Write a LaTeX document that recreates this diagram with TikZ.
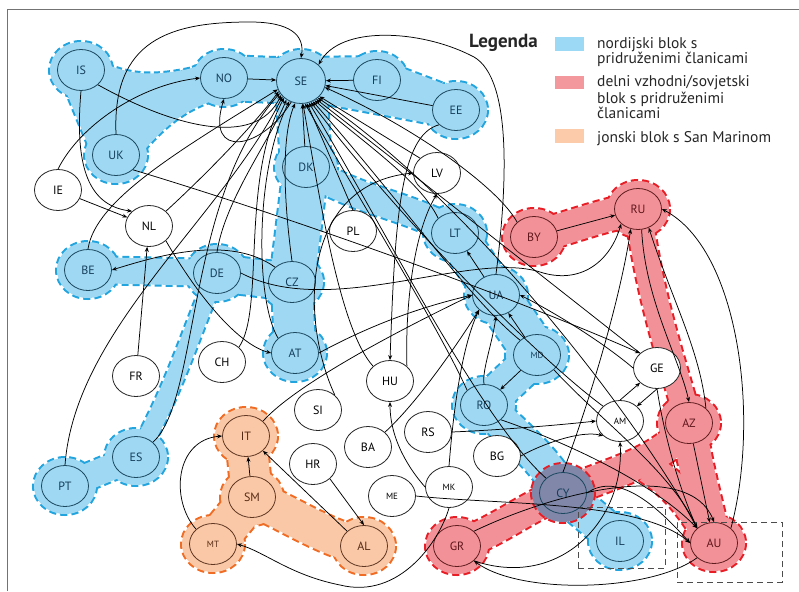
\documentclass[tikz,border=0pt]{standalone}
\usepackage{fontspec}
\setmainfont{PT Sans}
\setsansfont{PT Sans}
\usetikzlibrary{shapes.geometric,arrows.meta,backgrounds}
\definecolor{bluefill}{RGB}{158,216,242}
\definecolor{bluedash}{RGB}{34,164,222}
\definecolor{redfill}{RGB}{242,146,152}
\definecolor{reddash}{RGB}{232,30,38}
\definecolor{orfill}{RGB}{250,200,166}
\definecolor{ordash}{RGB}{240,108,36}
\definecolor{cyfill}{RGB}{128,135,168}
\definecolor{bluetext}{RGB}{22,62,92}
\definecolor{redtext}{RGB}{95,22,28}
\definecolor{ortext}{RGB}{85,42,20}
\definecolor{blueline}{RGB}{28,72,96}
\definecolor{redline}{RGB}{95,28,30}
\definecolor{orline}{RGB}{95,55,35}
\definecolor{legblue}{RGB}{155,217,244}
\definecolor{legred}{RGB}{243,152,157}
\definecolor{legor}{RGB}{251,203,170}
\tikzset{
  nbase/.style={ellipse, line width=0.8pt, minimum width=47pt, minimum height=41pt, inner sep=0pt, font=\fontsize{12}{12}\selectfont},
  nwhite/.style={nbase, draw=black!85, fill=white, text=black},
  nblue/.style={nbase, draw=blueline, text=bluetext},
  nred/.style={nbase, draw=redline, text=redtext},
  nor/.style={nbase, draw=orline, text=ortext},
  nsmall/.style={font=\fontsize{9}{9}\selectfont},
  conn/.style={draw=black, line width=0.75pt, -{Stealth[length=5pt,width=4pt]}},
  bdisc/.style={draw=bluedash, line width=4pt, dash pattern=on 7pt off 4pt},
  rdisc/.style={draw=reddash, line width=4pt, dash pattern=on 7pt off 4pt},
  odisc/.style={draw=ordash, line width=4pt, dash pattern=on 7pt off 4pt},
  legtext/.style={anchor=base west, inner sep=0pt, font=\fontsize{15.5}{15}\selectfont, text=black!85},
}
\newcommand{\bandout}[3]{\draw[draw=#1, line width=#2pt+4pt, dash pattern=on 7pt off 4pt, line cap=butt] #3;}
\newcommand{\bandfill}[3]{\draw[draw=#1, line width=#2pt, line cap=butt, line join=round] #3;}
\begin{document}
\begin{tikzpicture}[x=1pt,y=-1pt]
\useasboundingbox (0,0) rectangle (799,591);
\draw[black!55, line width=1pt] (7,591) -- (7,10) -- (799,10);

% ---------------- nodes ----------------
\node[nblue] (IS) at (81,70) {IS};
\node[nblue] (NO) at (224,78) {NO};
\node[nblue, minimum width=49pt, minimum height=45pt] (SE) at (301,81) {SE};
\node[nblue] (FI) at (377,80) {FI};
\node[nblue] (EE) at (456,110) {EE};
\node[nblue] (UK) at (116,155) {UK};
\node[nblue] (DK) at (306,167) {DK};
\node[nwhite] (IE) at (58,190) {IE};
\node[nwhite] (LV) at (437,173) {LV};
\node[nwhite] (NL) at (149,226) {NL};
\node[nwhite] (PL) at (353,231) {PL};
\node[nblue] (LT) at (455,233) {LT};
\node[nred] (BY) at (534,237) {BY};
\node[nred] (RU) at (638,209) {RU};
\node[nblue] (BE) at (88,270) {BE};
\node[nblue] (DE) at (217,273) {DE};
\node[nblue] (CZ) at (292,282) {CZ};
\node[nblue] (UA) at (496,295) {UA};
\node[nblue] (AT) at (295,353) {AT};
\node[nwhite] (CH) at (222,362) {CH};
\node[nwhite] (FR) at (136,376) {FR};
\node[nblue, nsmall] (MD) at (537,355) {MD};
\node[nwhite] (GE) at (657,368) {GE};
\node[nwhite] (HU) at (390,381) {HU};
\node[nwhite] (SI) at (318,410) {SI};
\node[nblue] (RO) at (484,405) {RO};
\node[nwhite, nsmall] (AM) at (620,421) {AM};
\node[nred] (AZ) at (689,423) {AZ};
\node[nor] (IT) at (246,436) {IT};
\node[nwhite] (RS) at (428,432) {RS};
\node[nwhite] (BA) at (368,447) {BA};
\node[nwhite] (BG) at (497,456) {BG};
\node[nwhite] (HR) at (313,464) {HR};
\node[nblue] (ES) at (136,457) {ES};
\node[nblue] (PT) at (65,486) {PT};
\node[nor] (SM) at (252,497) {SM};
\node[nwhite, nsmall] (ME) at (392,496) {ME};
\node[nwhite, nsmall] (MK) at (449,487) {MK};
\node[nbase, draw=blueline, text=bluetext] (CY) at (563,493) {CY};
\node[nred] (GR) at (457,546) {GR};
\node[nor, nsmall] (MT) at (213,544) {MT};
\node[nor] (AL) at (364,546) {AL};
\node[nblue] (IL) at (620,541) {IL};
\node[nred] (AU) at (714,543) {AU};

% dashed boxes
\node[draw=black!70, dash pattern=on 6pt off 4pt, line width=1pt, minimum width=87pt, minimum height=61pt, inner sep=0] (boxIL) at (621.5,537.5) {};
\node[draw=black!70, dash pattern=on 6pt off 4pt, line width=1pt, minimum width=105pt, minimum height=60pt, inner sep=0] (boxAU) at (729.5,552) {};

% ---------------- legend ----------------
\node[anchor=base west, inner sep=0pt, font=\fontsize{19}{19}\selectfont\bfseries, text=black!85] (legtitle) at (469,48) {Legenda};
\node[fill=legblue, minimum width=29pt, minimum height=14pt, inner sep=0] (sw1) at (569.5,44) {};
\node[fill=legred, minimum width=29pt, minimum height=13pt, inner sep=0] (sw2) at (569.5,82.5) {};
\node[fill=legor, minimum width=29pt, minimum height=14pt, inner sep=0] (sw3) at (569.5,136) {};
\node[legtext] (l1a) at (597,49) {nordijski blok s};
\node[legtext] (l1b) at (597,64) {pridruženimi članicami};
\node[legtext] (l2a) at (597,87) {delni vzhodni/sovjetski};
\node[legtext] (l2b) at (597,103) {blok s pridruženimi};
\node[legtext] (l2c) at (597,118) {članicami};
\node[legtext] (l3a) at (597,142) {jonski blok s San Marinom};

% ---------------- connectors ----------------
% into SE (north / west cluster)
\draw[conn] (NO) -- (SE);
\draw[conn] (FI) -- (SE);
\draw[conn] (EE) -- (SE);
\draw[conn] (DK) -- (SE);
\draw[conn] (SE.245) .. controls (262,150) and (205,160) .. (NO.south);
\draw[conn] (IE.north) .. controls (80,125) and (140,85) .. (NO.west);
\draw[conn] (UK.north) .. controls (112,40) and (170,22) .. (250,22) .. controls (290,22) and (305,35) .. (SE.north);
\draw[conn] (UA.north) .. controls (508,180) and (512,72) .. (470,55) .. controls (420,30) and (340,25) .. (SE.north east);
\draw[conn] (IS.south east) .. controls (170,125) and (255,150) .. (SE.215);
\draw[conn] (NL.north east) .. controls (200,180) and (250,130) .. (SE.205);
\draw[conn] (BE.north) .. controls (95,200) and (180,150) .. (SE.200);
\draw[conn] (DE.north) .. controls (225,200) and (270,140) .. (SE.232);
\draw[conn] (CZ.north) .. controls (285,210) and (280,140) .. (SE.255);
\draw[conn] (AT.north west) .. controls (255,300) and (255,170) .. (SE.240);
\draw[conn] (CH.north east) .. controls (265,310) and (240,180) .. (SE.225);
\draw[conn] (PT.north) .. controls (75,330) and (220,220) .. (SE.220);
\draw[conn] (ES.north east) .. controls (200,400) and (185,200) .. (SE.210);
% into SE from south-east
\draw[conn] (LV.north west) -- (SE.320);
\draw[conn] (LT.north west) .. controls (420,180) and (360,140) .. (SE.305);
\draw[conn] (PL.north) -- (SE.285);
\draw[conn] (HU.north west) .. controls (340,330) and (320,200) .. (SE.275);
\draw[conn] (BY.north west) .. controls (500,190) and (420,130) .. (SE.345);
\draw[conn] (MD.north west) .. controls (470,300) and (400,200) .. (SE.300);
\draw[conn] (GE.north west) .. controls (560,290) and (420,180) .. (SE.310);
\draw[conn] (AM.north west) .. controls (540,360) and (400,220) .. (SE.295);
\draw[conn] (CY.north west) .. controls (480,420) and (380,220) .. (SE.290);
\draw[conn] (RO.north west) .. controls (440,330) and (360,200) .. (SE.280);
\draw[conn] (AU.north west) .. controls (640,420) and (470,200) .. (SE.315);
% west
\draw[conn] (IE) -- (NL);
\draw[conn] (IS.south) .. controls (75,160) and (85,205) .. (NL.north west);
\draw[conn] (FR) -- (NL);
\draw[conn] (NL.south east) .. controls (200,300) and (240,345) .. (AT.west);
\draw[conn] (CZ.north west) .. controls (230,235) and (160,255) .. (BE.east);
\draw[conn] (UK.south east) .. controls (300,220) and (520,300) .. (GE.north west);
\draw[conn] (DE.east) .. controls (330,320) and (470,250) .. (540,272) .. controls (580,285) and (610,262) .. (RU.south west);
% centre
\draw[conn] (EE.south west) .. controls (400,135) and (395,220) .. (HU.north);
\draw[conn] (HU.north east) .. controls (405,300) and (415,230) .. (LV.south);
\draw[conn] (SI.north east) .. controls (300,320) and (300,185) .. (LV.west);
\draw[conn] (UA) -- (LT);
\draw[conn] (BY) -- (RU);
\draw[conn] (RU.280) .. controls (645,300) and (680,360) .. (AZ.north);
\draw[conn] (AZ.north east) .. controls (700,350) and (672,300) .. (RU.300);
\draw[conn] (AU.north east) .. controls (760,420) and (740,250) .. (RU.east);
\draw[conn] (CY.north) .. controls (590,400) and (620,300) .. (RU.250);
\draw[conn] (GE.west) .. controls (600,340) and (550,310) .. (UA.east);
\draw[conn] (MD) -- (UA);
\draw[conn] (RO.north) .. controls (482,370) and (492,345) .. (UA.south);
\draw[conn] (MD) -- (RO);
\draw[conn] (AT.east) .. controls (380,320) and (430,305) .. (UA.west);
\draw[conn] (IT.north east) .. controls (300,380) and (420,320) .. (UA.west);
\draw[conn] (BA.north east) .. controls (420,400) and (460,340) .. (UA.south west);
\draw[conn] (MK.north) .. controls (455,390) and (465,340) .. (UA.south west);
\draw[conn] (MK.west) .. controls (410,470) and (390,440) .. (HU.south);
% south-west
\draw[conn] (SM) -- (IT);
\draw[conn] (MT.north west) .. controls (170,500) and (175,440) .. (IT.west);
\draw[conn] (AL.north west) -- (IT.south east);
\draw[conn] (HR.south east) -- (AL.north);
\draw[conn] (MK.south) .. controls (440,540) and (400,600) .. (340,585) .. controls (290,575) and (265,552) .. (MT.east);
% south-east
\draw[conn] (AM.north) -- (GE.south west);
\draw[conn] (GE.south) -- (AM.north east);
\draw[conn] (RS.east) .. controls (500,430) and (560,425) .. (AM.west);
\draw[conn] (BG.east) .. controls (540,445) and (580,430) .. (AM.south west);
\draw[conn] (GR.south east) .. controls (560,590) and (625,520) .. (AM.south);
\draw[conn] (AZ) -- (AU);
\draw[conn] (GE.south) .. controls (665,440) and (680,490) .. (AU.north west);
\draw[conn] (CY.east) .. controls (620,470) and (660,510) .. (AU.west);
\draw[conn] (ME.east) .. controls (500,505) and (640,500) .. (AU.west);
\draw[conn] (GR.north east) .. controls (560,490) and (690,460) .. (AU.north);
\draw[conn] (RO.south east) .. controls (560,440) and (650,480) .. (AU.north west);
\draw[conn] (MD.south east) .. controls (600,420) and (670,470) .. (AU.north west);
\draw[conn] (AU.south west) .. controls (650,592) and (520,595) .. (GR.south east);

% ---------------- blobs ----------------
\begin{scope}[on background layer]
  % blue outlines
  \foreach \n in {IS,NO,FI,EE,UK,DK,BE,DE,CZ,AT,LT,UA,MD,RO,ES,PT,IL}
    \draw[bdisc] (\n.center) ellipse [x radius=31, y radius=28];
  \draw[bdisc] (SE.center) ellipse [x radius=33, y radius=31];
  \bandout{bluedash}{34}{(IS.center) .. controls (130,100) and (170,92) .. (NO.center)}
  \bandout{bluedash}{38}{(UK.center) .. controls (150,110) and (180,88) .. (NO.center)}
  \bandout{bluedash}{44}{(IS.center) -- (UK.center)}
  \bandout{bluedash}{44}{(NO.center) -- (SE.center)}
  \bandout{bluedash}{46}{(SE.center) -- (FI.center)}
  \bandout{bluedash}{40}{(FI.center) -- (EE.center)}
  \bandout{bluedash}{36}{(SE.center) -- (EE.center)}
  \bandout{bluedash}{50}{(SE.center) -- (DK.center)}
  \bandout{bluedash}{44}{(DK.center) -- (CZ.center)}
  \bandout{bluedash}{28}{(DK.center) .. controls (350,200) and (410,205) .. (LT.center)}
  \bandout{bluedash}{40}{(CZ.center) -- (AT.center)}
  \bandout{bluedash}{36}{(CZ.center) -- (DE.center)}
  \bandout{bluedash}{26}{(DE.center) -- (BE.center)}
  \bandout{bluedash}{18}{(DE.center) .. controls (195,320) and (175,390) .. (ES.center)}
  \bandout{bluedash}{26}{(ES.center) -- (PT.center)}
  \bandout{bluedash}{40}{(LT.center) -- (UA.center)}
  \bandout{bluedash}{44}{(UA.center) -- (MD.center)}
  \bandout{bluedash}{36}{(MD.center) -- (RO.center)}
  \bandout{bluedash}{34}{(RO.center) .. controls (520,440) and (545,460) .. (CY.center)}
  \bandout{bluedash}{36}{(CY.center) -- (IL.center)}
  % blue fills
  \foreach \n in {IS,NO,FI,EE,UK,DK,BE,DE,CZ,AT,LT,UA,MD,RO,ES,PT,IL}
    \fill[bluefill] (\n.center) ellipse [x radius=31, y radius=28];
  \fill[bluefill] (SE.center) ellipse [x radius=33, y radius=31];
  \fill[bluefill] (IS.center) -- (UK.center) -- (160,102) -- cycle;
  \bandfill{bluefill}{34}{(IS.center) .. controls (130,100) and (170,92) .. (NO.center)}
  \bandfill{bluefill}{38}{(UK.center) .. controls (150,110) and (180,88) .. (NO.center)}
  \bandfill{bluefill}{44}{(IS.center) -- (UK.center)}
  \bandfill{bluefill}{44}{(NO.center) -- (SE.center)}
  \bandfill{bluefill}{46}{(SE.center) -- (FI.center)}
  \bandfill{bluefill}{40}{(FI.center) -- (EE.center)}
  \bandfill{bluefill}{36}{(SE.center) -- (EE.center)}
  \bandfill{bluefill}{50}{(SE.center) -- (DK.center)}
  \bandfill{bluefill}{44}{(DK.center) -- (CZ.center)}
  \bandfill{bluefill}{28}{(DK.center) .. controls (350,200) and (410,205) .. (LT.center)}
  \bandfill{bluefill}{40}{(CZ.center) -- (AT.center)}
  \bandfill{bluefill}{36}{(CZ.center) -- (DE.center)}
  \bandfill{bluefill}{26}{(DE.center) -- (BE.center)}
  \bandfill{bluefill}{18}{(DE.center) .. controls (195,320) and (175,390) .. (ES.center)}
  \bandfill{bluefill}{26}{(ES.center) -- (PT.center)}
  \bandfill{bluefill}{40}{(LT.center) -- (UA.center)}
  \bandfill{bluefill}{44}{(UA.center) -- (MD.center)}
  \bandfill{bluefill}{36}{(MD.center) -- (RO.center)}
  \bandfill{bluefill}{34}{(RO.center) .. controls (520,440) and (545,460) .. (CY.center)}
  \bandfill{bluefill}{36}{(CY.center) -- (IL.center)}
  % red outlines
  \foreach \n in {BY,RU,AZ,AU,GR}
    \draw[rdisc] (\n.center) ellipse [x radius=31, y radius=28];
  \bandout{reddash}{32}{(BY.center) .. controls (570,228) and (600,215) .. (RU.center)}
  \bandout{reddash}{26}{(RU.center) .. controls (650,300) and (672,360) .. (AZ.center)}
  \bandout{reddash}{34}{(AZ.center) .. controls (695,470) and (705,500) .. (AU.center)}
  \bandout{reddash}{30}{(AZ.center) .. controls (665,460) and (620,470) .. (CY.center)}
  \bandout{reddash}{30}{(648,468) .. controls (675,485) and (690,505) .. (AU.center)}
  \bandout{reddash}{30}{(CY.center) .. controls (530,505) and (500,530) .. (GR.center)}
  % red fills
  \foreach \n in {BY,RU,AZ,AU,GR}
    \fill[redfill] (\n.center) ellipse [x radius=31, y radius=28];
  \bandfill{redfill}{32}{(BY.center) .. controls (570,228) and (600,215) .. (RU.center)}
  \bandfill{redfill}{26}{(RU.center) .. controls (650,300) and (672,360) .. (AZ.center)}
  \bandfill{redfill}{34}{(AZ.center) .. controls (695,470) and (705,500) .. (AU.center)}
  \bandfill{redfill}{30}{(AZ.center) .. controls (665,460) and (620,470) .. (CY.center)}
  \bandfill{redfill}{30}{(648,468) .. controls (675,485) and (690,505) .. (AU.center)}
  \bandfill{redfill}{30}{(CY.center) .. controls (530,505) and (500,530) .. (GR.center)}
  % Cyprus overlap
  \draw[rdisc] (CY.center) ellipse [x radius=31, y radius=29];
  \fill[cyfill] (CY.center) ellipse [x radius=31, y radius=29];
  % orange
  \foreach \n in {IT,SM,MT,AL}
    \draw[odisc] (\n.center) ellipse [x radius=31, y radius=28];
  \bandout{ordash}{40}{(IT.center) -- (SM.center)}
  \bandout{ordash}{40}{(SM.center) -- (MT.center)}
  \bandout{ordash}{36}{(SM.center) .. controls (300,520) and (330,540) .. (AL.center)}
  \foreach \n in {IT,SM,MT,AL}
    \fill[orfill] (\n.center) ellipse [x radius=31, y radius=28];
  \bandfill{orfill}{40}{(IT.center) -- (SM.center)}
  \bandfill{orfill}{40}{(SM.center) -- (MT.center)}
  \bandfill{orfill}{36}{(SM.center) .. controls (300,520) and (330,540) .. (AL.center)}
\end{scope}
\end{tikzpicture}
\end{document}
